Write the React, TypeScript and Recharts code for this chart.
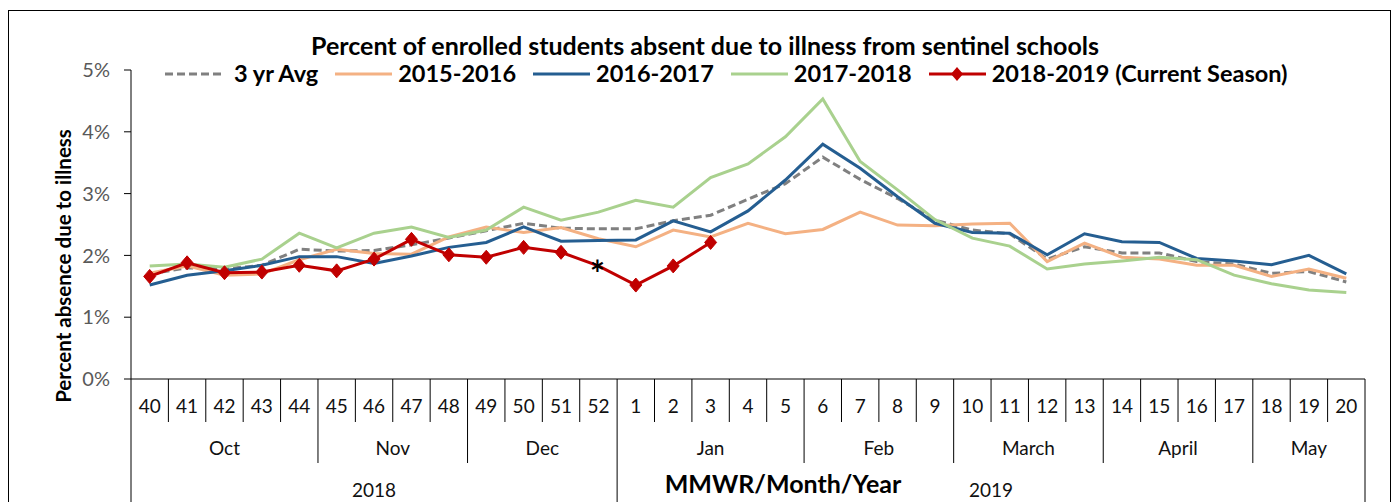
import React from 'react';
import { LineChart, Line, XAxis, YAxis, Legend, Label } from 'recharts';

const weeks = [40, 41, 42, 43, 44, 45, 46, 47, 48, 49, 50, 51, 52, 1, 2, 3, 4, 5, 6, 7, 8, 9, 10, 11, 12, 13, 14, 15, 16, 17, 18, 19, 20];
const months = ['Oct', 'Oct', 'Oct', 'Oct', 'Oct', 'Nov', 'Nov', 'Nov', 'Nov', 'Dec', 'Dec', 'Dec', 'Dec', 'Jan', 'Jan', 'Jan', 'Jan', 'Jan', 'Feb', 'Feb', 'Feb', 'Feb', 'March', 'March', 'March', 'March', 'April', 'April', 'April', 'April', 'May', 'May', 'May'];
const years = ['2018', '2018', '2018', '2018', '2018', '2018', '2018', '2018', '2018', '2018', '2018', '2018', '2018', '2019', '2019', '2019', '2019', '2019', '2019', '2019', '2019', '2019', '2019', '2019', '2019', '2019', '2019', '2019', '2019', '2019', '2019', '2019', '2019'];

const avg3yr = [1.70, 1.80, 1.78, 1.84, 2.10, 2.07, 2.08, 2.17, 2.28, 2.40, 2.52, 2.44, 2.43, 2.43, 2.56, 2.65, 2.91, 3.16, 3.59, 3.23, 2.92, 2.57, 2.41, 2.35, 1.94, 2.14, 2.04, 2.04, 1.90, 1.86, 1.71, 1.74, 1.57];
const s2015 = [1.71, 1.83, 1.68, 1.70, 1.93, 2.10, 2.03, 2.02, 2.30, 2.46, 2.37, 2.45, 2.27, 2.14, 2.41, 2.30, 2.52, 2.35, 2.42, 2.70, 2.49, 2.48, 2.51, 2.52, 1.90, 2.20, 1.97, 1.94, 1.84, 1.84, 1.66, 1.78, 1.63];
const s2016 = [1.52, 1.68, 1.75, 1.84, 1.98, 1.98, 1.87, 1.99, 2.13, 2.21, 2.46, 2.23, 2.24, 2.25, 2.56, 2.38, 2.72, 3.22, 3.80, 3.41, 2.95, 2.52, 2.37, 2.36, 2.01, 2.35, 2.22, 2.21, 1.95, 1.91, 1.85, 2.00, 1.70];
const s2017 = [1.83, 1.86, 1.81, 1.94, 2.36, 2.12, 2.36, 2.46, 2.29, 2.41, 2.78, 2.57, 2.70, 2.89, 2.78, 3.26, 3.48, 3.92, 4.53, 3.52, 3.06, 2.58, 2.28, 2.15, 1.78, 1.86, 1.91, 1.97, 1.93, 1.68, 1.54, 1.44, 1.40];
const s2018 = [1.66, 1.88, 1.72, 1.73, 1.84, 1.75, 1.94, 2.26, 2.01, 1.97, 2.13, 2.05, 1.83, 1.52, 1.83, 2.21, null, null, null, null, null, null, null, null, null, null, null, null, null, null, null, null, null];
const noteWeek = 52;
const yTicks = [0, 1, 2, 3, 4, 5];

const seriesKeys = ['avg', 's2015', 's2016', 's2017', 's2018'];
const seriesNames = ['3 yr Avg', '2015-2016', '2016-2017', '2017-2018', '2018-2019 (Current Season)'];

const data = weeks.map((w, i) => ({
  week: String(w),
  avg: avg3yr[i],
  s2015: s2015[i],
  s2016: s2016[i],
  s2017: s2017[i],
  s2018: s2018[i],
}));

const FONT = 'Lato, "Open Sans", sans-serif';
const W = 1384;
const H = 494;
const PLOT_LEFT = 123;
const PLOT_RIGHT = 1357;
const PLOT_TOP = 62;
const AXIS_H = 123;
const PLOT_BOTTOM = H - AXIS_H;
const BW = (PLOT_RIGHT - PLOT_LEFT) / weeks.length;

const COLORS: Record<string, string> = {
  avg: '#808080',
  s2015: '#F4B183',
  s2016: '#255E91',
  s2017: '#A9D18E',
  s2018: '#C00000',
};

const XTick = (props: any) => {
  const { x } = props;
  const i: number = props.index ?? props.payload?.index ?? 0;
  const left = x - BW / 2;
  const els: React.ReactNode[] = [];
  els.push(
    <text key="w" x={x} y={405} textAnchor="middle" fontSize={19} fontFamily={FONT} fill="#111">
      {weeks[i]}
    </text>
  );
  const yearStart = i === 0 || years[i] !== years[i - 1];
  const monthStart = i === 0 || months[i] !== months[i - 1];
  const sepBottom = yearStart ? H : monthStart ? 455 : 414;
  els.push(<line key="s" x1={left} x2={left} y1={PLOT_BOTTOM} y2={sepBottom} stroke="#000" strokeWidth={1} />);
  if (i === weeks.length - 1) {
    els.push(<line key="e" x1={left + BW} x2={left + BW} y1={PLOT_BOTTOM} y2={H} stroke="#000" strokeWidth={1} />);
  }
  if (monthStart) {
    let n = 0;
    while (i + n < months.length && months[i + n] === months[i]) n++;
    els.push(
      <text key="m" x={left + (n * BW) / 2} y={447} textAnchor="middle" fontSize={19} fontFamily={FONT} fill="#111">
        {months[i]}
      </text>
    );
  }
  if (yearStart) {
    let n = 0;
    while (i + n < years.length && years[i + n] === years[i]) n++;
    els.push(
      <text key="y" x={left + (n * BW) / 2} y={489} textAnchor="middle" fontSize={19} fontFamily={FONT} fill="#111">
        {years[i]}
      </text>
    );
  }
  return <g>{els}</g>;
};

const RedDot = (props: any) => {
  const { cx, cy, index, payload } = props;
  if (cx == null || cy == null || payload?.s2018 == null) return <g key={`d${index}`} />;
  if (payload.week === String(noteWeek)) {
    return (
      <text key={`d${index}`} x={cx - 1} y={cy + 21} textAnchor="middle" fontSize={36} fontWeight="bold" fontFamily={FONT} fill="#000">
        *
      </text>
    );
  }
  return (
    <polygon
      key={`d${index}`}
      points={`${cx},${cy - 7} ${cx + 6},${cy} ${cx},${cy + 7} ${cx - 6},${cy}`}
      fill={COLORS.s2018}
      stroke={COLORS.s2018}
    />
  );
};

const LegendContent = () => (
  <div style={{ display: 'flex', alignItems: 'center', fontFamily: FONT, fontWeight: 'bold', fontSize: 23.5, lineHeight: '29px', color: '#000', whiteSpace: 'nowrap' }}>
    {seriesKeys.map((key, k) => (
      <div key={key} style={{ display: 'flex', alignItems: 'center', marginRight: 17 }}>
        <svg width={57} height={16} style={{ marginRight: key === 'avg' ? 12 : 6 }}>
          <line
            x1={0}
            x2={57}
            y1={8}
            y2={8}
            stroke={COLORS[key]}
            strokeWidth={3}
            strokeDasharray={key === 'avg' ? '8 4' : undefined}
          />
          {key === 's2018' && <polygon points="28,1 34,8 28,15 22,8" fill={COLORS[key]} />}
        </svg>
        <span>{seriesNames[k]}</span>
      </div>
    ))}
  </div>
);

const YLabel = () => (
  <text
    x={55}
    y={258}
    transform="rotate(-90 55 258)"
    textAnchor="middle"
    dominantBaseline="central"
    fontSize={20.5}
    fontWeight="bold"
    fontFamily={FONT}
    fill="#000"
  >
    Percent absence due to illness
  </text>
);

const XTitle = () => (
  <text x={775} y={485} textAnchor="middle" fontSize={25} fontWeight="bold" fontFamily={FONT} fill="#000">
    MMWR/Month/Year
  </text>
);

export default function App() {
  return (
    <div style={{ position: 'relative', width: W, height: H, overflow: 'hidden', background: '#fff' }}>
      <div
        style={{
          position: 'absolute',
          top: 2,
          left: 0,
          width: 1383,
          height: 520,
          border: '1px solid #000',
          boxSizing: 'border-box',
          pointerEvents: 'none',
        }}
      />
      <div
        style={{
          position: 'absolute',
          top: 22,
          left: 0,
          width: 1394,
          textAlign: 'center',
          fontFamily: FONT,
          fontWeight: 'bold',
          fontSize: 25,
          lineHeight: '30px',
          color: '#000',
          zIndex: 2,
        }}
      >
        Percent of enrolled students absent due to illness from sentinel schools
      </div>
      <LineChart width={W} height={H} data={data} margin={{ top: PLOT_TOP, right: W - PLOT_RIGHT, bottom: 0, left: 0 }}>
        <XAxis
          dataKey="week"
          interval={0}
          height={AXIS_H}
          padding={{ left: BW / 2, right: BW / 2 }}
          tickLine={false}
          axisLine={{ stroke: '#000', strokeWidth: 1 }}
          tick={<XTick />}
        >
          <Label content={<XTitle />} />
        </XAxis>
        <YAxis
          width={PLOT_LEFT}
          domain={[0, 5]}
          ticks={yTicks}
          interval={0}
          tickFormatter={(v: number) => `${v}%`}
          tickSize={7}
          tickMargin={14}
          tickLine={{ stroke: '#000' }}
          axisLine={{ stroke: '#000', strokeWidth: 1 }}
          tick={{ fontSize: 20, fontFamily: FONT, fill: '#595959' }}
        >
          <Label content={<YLabel />} />
        </YAxis>
        <Legend
          layout="horizontal"
          verticalAlign="middle"
          align="center"
          wrapperStyle={{ top: 51, left: 157, width: 1200, height: 29 }}
          content={<LegendContent />}
        />
        <Line name={seriesNames[0]} dataKey="avg" stroke={COLORS.avg} strokeWidth={3} strokeDasharray="8 4" dot={false} isAnimationActive={false} />
        <Line name={seriesNames[1]} dataKey="s2015" stroke={COLORS.s2015} strokeWidth={3} dot={false} isAnimationActive={false} />
        <Line name={seriesNames[2]} dataKey="s2016" stroke={COLORS.s2016} strokeWidth={3} dot={false} isAnimationActive={false} />
        <Line name={seriesNames[3]} dataKey="s2017" stroke={COLORS.s2017} strokeWidth={3} dot={false} isAnimationActive={false} />
        <Line name={seriesNames[4]} dataKey="s2018" stroke={COLORS.s2018} strokeWidth={3} dot={<RedDot />} activeDot={false} isAnimationActive={false} />
      </LineChart>
    </div>
  );
}
